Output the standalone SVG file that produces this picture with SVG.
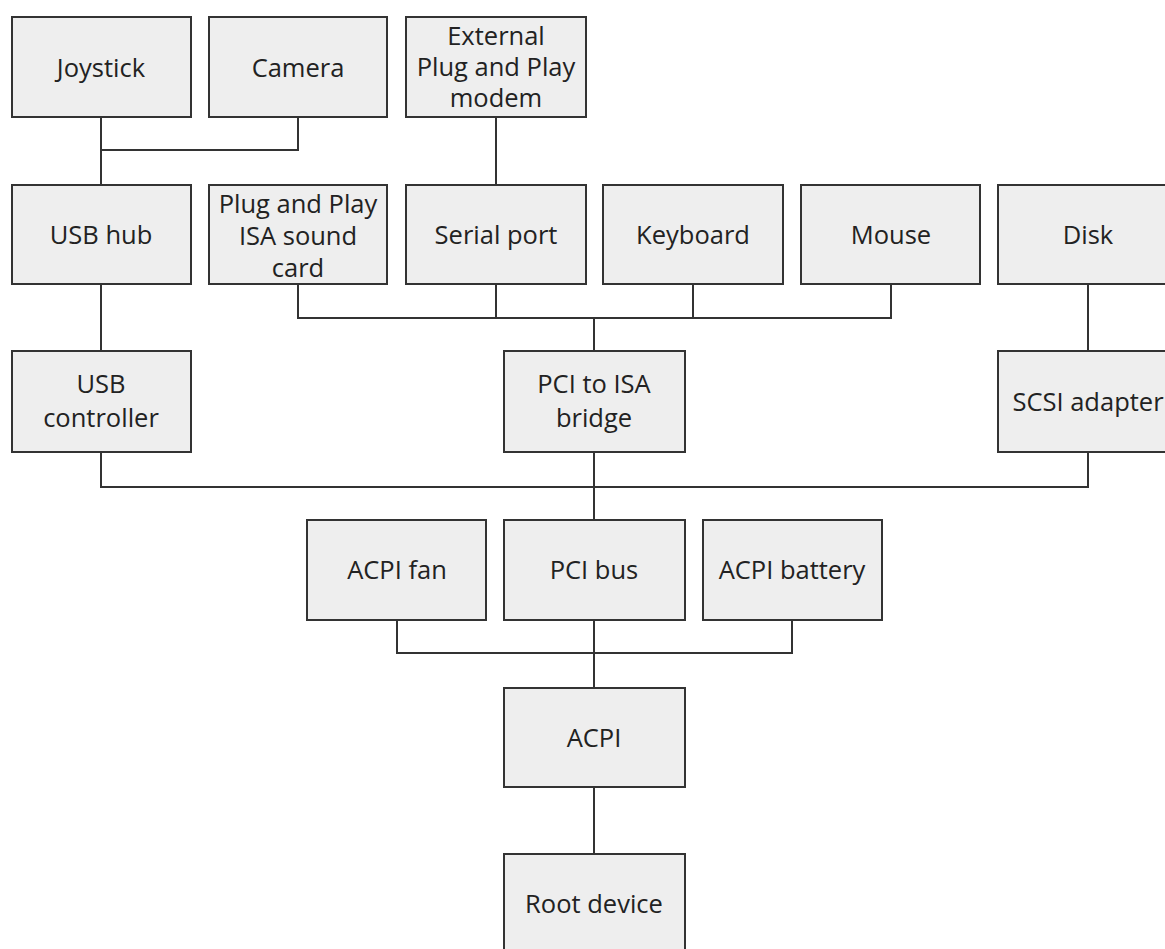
<svg xmlns="http://www.w3.org/2000/svg" width="1165" height="949" viewBox="0 0 1165 949">
<style>
.box{fill:#eeeeee;stroke:#333333;stroke-width:2}
.ln{fill:none;stroke:#333333;stroke-width:2}
.t{font-family:"Open Sans","Noto Sans",sans-serif;font-size:25.5px;fill:#222222;text-anchor:middle}
</style>
<rect width="1165" height="949" fill="#ffffff"/>
<g id="connectors">
<path class="ln" d="M101 117V185M298 117V150H101"/>
<path class="ln" d="M101 284V351"/>
<path class="ln" d="M496 117V185"/>
<path class="ln" d="M298 284V318H891V284M496 284V318M693 284V318M594 318V351"/>
<path class="ln" d="M1088 284V351"/>
<path class="ln" d="M101 452V487H1088V452M594 452V520"/>
<path class="ln" d="M397 620V653H792V620M594 620V688"/>
<path class="ln" d="M594 787V854"/>
</g>
<g id="joystick"><rect class="box" x="12" y="17" width="179" height="100"/><text class="t" x="101" y="77">Joystick</text></g>
<g id="camera"><rect class="box" x="209" y="17" width="178" height="100"/><text class="t" x="298" y="77">Camera</text></g>
<g id="modem"><rect class="box" x="406" y="17" width="180" height="100"/><text class="t" x="496" y="45">External</text><text class="t" x="496" y="76">Plug and Play</text><text class="t" x="496" y="107">modem</text></g>
<g id="usbhub"><rect class="box" x="12" y="185" width="179" height="99"/><text class="t" x="101" y="244">USB hub</text></g>
<g id="soundcard"><rect class="box" x="209" y="185" width="178" height="99"/><text class="t" x="298" y="213">Plug and Play</text><text class="t" x="298" y="245">ISA sound</text><text class="t" x="298" y="277">card</text></g>
<g id="serialport"><rect class="box" x="406" y="185" width="180" height="99"/><text class="t" x="496" y="244">Serial port</text></g>
<g id="keyboard"><rect class="box" x="603" y="185" width="180" height="99"/><text class="t" x="693" y="244">Keyboard</text></g>
<g id="mouse"><rect class="box" x="801" y="185" width="179" height="99"/><text class="t" x="891" y="244">Mouse</text></g>
<g id="disk"><rect class="box" x="998" y="185" width="180" height="99"/><text class="t" x="1088" y="244">Disk</text></g>
<g id="usbcontroller"><rect class="box" x="12" y="351" width="179" height="101"/><text class="t" x="101" y="393">USB</text><text class="t" x="101" y="427">controller</text></g>
<g id="pcitoisa"><rect class="box" x="504" y="351" width="181" height="101"/><text class="t" x="594" y="393">PCI to ISA</text><text class="t" x="594" y="427">bridge</text></g>
<g id="scsi"><rect class="box" x="998" y="351" width="180" height="101"/><text class="t" x="1088" y="411">SCSI adapter</text></g>
<g id="acpifan"><rect class="box" x="307" y="520" width="179" height="100"/><text class="t" x="397" y="579">ACPI fan</text></g>
<g id="pcibus"><rect class="box" x="504" y="520" width="181" height="100"/><text class="t" x="594" y="579">PCI bus</text></g>
<g id="acpibattery"><rect class="box" x="703" y="520" width="179" height="100"/><text class="t" x="792" y="579">ACPI battery</text></g>
<g id="acpi"><rect class="box" x="504" y="688" width="181" height="99"/><text class="t" x="594" y="747">ACPI</text></g>
<g id="rootdevice"><rect class="box" x="504" y="854" width="181" height="100"/><text class="t" x="594" y="913">Root device</text></g>
</svg>
